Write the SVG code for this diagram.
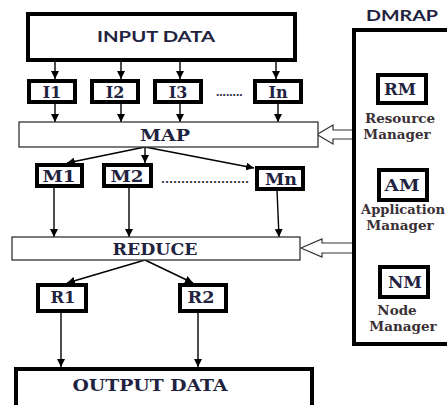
<svg xmlns="http://www.w3.org/2000/svg" width="447" height="405" viewBox="0 0 447 405">
<style>
.thick{fill:#fff;stroke:#000;stroke-width:4}
.thin{fill:#fff;stroke:#333;stroke-width:1.3}
.ser{font-family:"DejaVu Serif","Liberation Serif",serif;font-weight:bold;fill:#1f2340;text-anchor:middle}
.sans{font-family:Lato,"Liberation Sans",sans-serif;font-weight:bold;fill:#1f2340;text-anchor:middle}
.lab{font-family:"DejaVu Serif","Liberation Serif",serif;font-weight:bold;fill:#3a3036;text-anchor:middle;font-size:13.5px}
.ln{stroke:#000;stroke-width:1.4;fill:none}
.hol{fill:#fff;stroke:#333;stroke-width:1.2}
</style>
<defs>
<marker id="ah" viewBox="0 0 10 10" refX="10" refY="5" markerWidth="8" markerHeight="8" markerUnits="userSpaceOnUse" orient="auto">
<path d="M0,0 L10,5 L0,10 Z" fill="#000"/>
</marker>
</defs>
<rect width="447" height="405" fill="#fff"/>

<g id="connectors">
<line class="ln" x1="55" y1="62" x2="55" y2="79" marker-end="url(#ah)"/>
<line class="ln" x1="121" y1="62" x2="121" y2="79" marker-end="url(#ah)"/>
<line class="ln" x1="180" y1="62" x2="180" y2="79" marker-end="url(#ah)"/>
<line class="ln" x1="276" y1="62" x2="276" y2="79" marker-end="url(#ah)"/>
<line class="ln" x1="55" y1="104" x2="55" y2="122" marker-end="url(#ah)"/>
<line class="ln" x1="121" y1="104" x2="121" y2="122" marker-end="url(#ah)"/>
<line class="ln" x1="180" y1="104" x2="180" y2="122" marker-end="url(#ah)"/>
<line class="ln" x1="278" y1="104" x2="278" y2="122" marker-end="url(#ah)"/>
<line class="ln" x1="145" y1="147" x2="67" y2="163" marker-end="url(#ah)"/>
<line class="ln" x1="145" y1="147" x2="145" y2="163" marker-end="url(#ah)"/>
<line class="ln" x1="145" y1="147" x2="254" y2="168" marker-end="url(#ah)"/>
<line class="ln" x1="54" y1="188" x2="54" y2="237" marker-end="url(#ah)"/>
<line class="ln" x1="129" y1="188" x2="129" y2="237" marker-end="url(#ah)"/>
<line class="ln" x1="277" y1="190" x2="279" y2="237" marker-end="url(#ah)"/>
<line class="ln" x1="145" y1="260" x2="67" y2="283" marker-end="url(#ah)"/>
<line class="ln" x1="145" y1="260" x2="193" y2="283" marker-end="url(#ah)"/>
<line class="ln" x1="61" y1="313" x2="61" y2="367" marker-end="url(#ah)"/>
<line class="ln" x1="198" y1="313" x2="198" y2="367" marker-end="url(#ah)"/>
<path class="hol" d="M353,130 L333,130 L333,125 L317,134.5 L333,144 L333,139 L353,139"/>
<path class="hol" d="M353,243 L322,243 L322,239 L301,248 L322,257 L322,253 L353,253"/>
</g>

<g id="input"><rect class="thick" x="28" y="14" width="267" height="46"/><text class="sans" x="156" y="42" font-size="16" textLength="118" lengthAdjust="spacingAndGlyphs">INPUT DATA</text></g>
<g id="i1"><rect class="thick" x="29" y="81" width="46" height="21"/><text class="ser" x="52" y="97.5" font-size="16">I1</text></g>
<g id="i2"><rect class="thick" x="92" y="81" width="46" height="21"/><text class="ser" x="115" y="97.5" font-size="16">I2</text></g>
<g id="i3"><rect class="thick" x="155" y="81" width="46" height="21"/><text class="ser" x="178" y="97.5" font-size="16">I3</text></g>
<text class="ser" x="229" y="96" font-size="11" letter-spacing="-0.5">........</text>
<g id="in"><rect class="thick" x="255" y="81" width="46" height="21"/><text class="ser" x="278" y="97.5" font-size="16">In</text></g>

<g id="map"><rect class="thin" x="19" y="122" width="299" height="25"/><text class="ser" x="165" y="141" font-size="17" textLength="50" lengthAdjust="spacingAndGlyphs">MAP</text></g>
<g id="m1"><rect class="thick" x="37" y="165" width="45" height="21"/><text class="ser" x="59" y="182" font-size="16" textLength="33" lengthAdjust="spacingAndGlyphs">M1</text></g>
<g id="m2"><rect class="thick" x="104" y="165" width="47" height="21"/><text class="ser" x="127" y="182" font-size="16" textLength="33" lengthAdjust="spacingAndGlyphs">M2</text></g>
<text class="ser" x="205" y="183" font-size="11" textLength="88" lengthAdjust="spacingAndGlyphs">......................</text>
<g id="mn"><rect class="thick" x="257" y="168" width="46" height="21"/><text class="ser" x="281" y="184.5" font-size="16" textLength="32" lengthAdjust="spacingAndGlyphs">Mn</text></g>

<g id="reduce"><rect class="thin" x="12" y="237" width="288" height="23"/><text class="ser" x="155" y="255" font-size="17" textLength="85" lengthAdjust="spacingAndGlyphs">REDUCE</text></g>
<g id="r1"><rect class="thick" x="38" y="285" width="48" height="26"/><text class="ser" x="63" y="303" font-size="16" textLength="25" lengthAdjust="spacingAndGlyphs">R1</text></g>
<g id="r2"><rect class="thick" x="180" y="285" width="46" height="26"/><text class="ser" x="201" y="303" font-size="16" textLength="27" lengthAdjust="spacingAndGlyphs">R2</text></g>
<g id="output"><rect class="thick" x="16" y="369" width="296" height="40"/><text class="ser" x="150" y="391" font-size="17" textLength="155" lengthAdjust="spacingAndGlyphs">OUTPUT DATA</text></g>

<g id="dmrap"><text class="sans" x="402" y="21" font-size="15" textLength="72" lengthAdjust="spacingAndGlyphs">DMRAP</text><rect class="thick" x="354" y="30" width="100" height="314"/></g>
<g id="rm"><rect class="thick" x="378" y="75" width="48" height="28"/><text class="ser" x="400" y="95" font-size="16" textLength="32" lengthAdjust="spacingAndGlyphs">RM</text><text class="lab" x="400" y="123">Resource</text><text class="lab" x="397" y="139">Manager</text></g>
<g id="am"><rect class="thick" x="379" y="170" width="48" height="30"/><text class="ser" x="402" y="191" font-size="16" textLength="35" lengthAdjust="spacingAndGlyphs">AM</text><text class="lab" x="403" y="214" textLength="84" lengthAdjust="spacingAndGlyphs">Application</text><text class="lab" x="400" y="230">Manager</text></g>
<g id="nm"><rect class="thick" x="380" y="267" width="48" height="30"/><text class="ser" x="405" y="288" font-size="16" textLength="34" lengthAdjust="spacingAndGlyphs">NM</text><text class="lab" x="397" y="315">Node</text><text class="lab" x="403" y="331">Manager</text></g>
</svg>
